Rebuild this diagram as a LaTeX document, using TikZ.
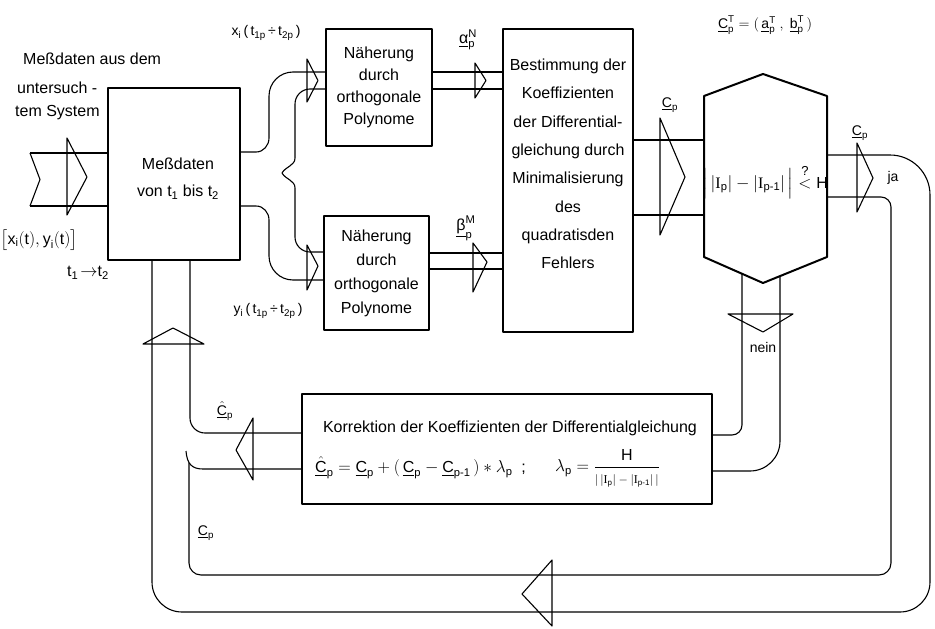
\documentclass[tikz,border=0pt]{standalone}
\usepackage{amsmath}
\usepackage{fontspec}
\setmainfont{Liberation Sans}
\newfontfamily\serf{Liberation Serif}
\newcommand\tx[1]{\text{#1}}
\newcommand\fs{\fontsize{16}{19}\selectfont}
\newcommand\fsm{\fontsize{14}{16}\selectfont}
\newcommand\uC{\underline{\tx{C}}}
\newcommand\II{\tx{\serf I}}
\begin{document}
\begin{tikzpicture}[x=1pt,y=-1pt,line join=round,
 box/.style={draw,line width=2pt,inner sep=0pt,align=center},
 pipe/.style={line width=1.1pt},
 tri/.style={line width=1.1pt},
 lbl/.style={inner sep=0pt,font=\fs},
 sml/.style={inner sep=0pt,font=\fsm}]
\useasboundingbox (0,0) rectangle (935,629);

% ---------- boxes ----------
\node[box,minimum width=132pt,minimum height=172pt] (mess) at (174,174) {};
\node[box,minimum width=106pt,minimum height=117pt,font=\fontsize{16}{22}\selectfont] (nah1) at (379,87.5) {Näherung\\durch\\orthogonale\\Polynome};
\node[box,minimum width=105pt,minimum height=114pt,font=\fontsize{16}{24}\selectfont] (nah2) at (376.5,273) {Näherung\\durch\\orthogonale\\Polynome};
\node[box,minimum width=130pt,minimum height=303pt] (best) at (568,180.5) {};
\node[box,minimum width=410pt,minimum height=110pt] (korr) at (507,449) {};

\coordinate (h1) at (704,96);
\coordinate (h2) at (763,74);
\coordinate (h3) at (827,96);
\coordinate (h4) at (827,257);
\coordinate (h5) at (763,283);
\coordinate (h6) at (704,257);
\draw[line width=2pt] (h1)--(h2)--(h3)--(h4)--(h5)--(h6)--cycle;

% ---------- box texts ----------
\node[inner sep=0pt,align=center,font=\fontsize{16}{27}\selectfont] (messT) at (178,178.5) {Meßdaten\\von t$_{\tx{1}}$ bis t$_{\tx{2}}$};
\node[inner sep=0pt,align=center,font=\fontsize{16}{28.3}\selectfont] (bestT) at (568,164) {Bestimmung der\\Koeffizienten\\der Differential-\\gleichung durch\\Minimalisierung\\des\\quadratisden\\Fehlers};
\node[lbl] (k1) at (510,428) {Korrektion der Koeffizienten der Differentialgleichung};
\node[lbl,anchor=west] (k2) at (315,468) {$\hat{\uC}_{\tx{p}} = \uC_{\tx{p}} + (\,\uC_{\tx{p}} - \uC_{\tx{p-1}}\,)\ast\lambda_{\tx{p}}$\ \ ;};
\node[lbl,anchor=west] (k3) at (555,468) {$\lambda_{\tx{p}} = \dfrac{\tx{H}}{\mbox{\fontsize{12}{12}\selectfont$\left|\,|\II_{\tx{p}}| - |\II_{\tx{p-1}}|\,\right|$}}$};
\node[lbl] (hexT) at (765,182) {$\Big|\,|\II_{\tx{p}}| - |\II_{\tx{p-1}}|\,\Big|\overset{\tx{\fontsize{13}{13}\selectfont ?}}{<}\tx{H}$};

% ---------- input ----------
\draw[pipe] (30,153) -- (mess.west |- 0,153);
\draw[pipe] (30,206) -- (mess.west |- 0,206);
\draw[pipe] (30,153) -- (40,179.5) -- (30,206);
\draw[tri] (67,138) -- (87,177) -- (67,215) -- cycle;

% ---------- main box to approximation boxes ----------
\draw[pipe] (mess.east |- 0,152) -- (256,152) to[out=0,in=-90] (269,138) -- (269,96) to[out=90,in=180] (293,72) -- (nah1.west |- 0,72);
\draw[pipe] (nah1.west |- 0,89) -- (310,89) to[out=180,in=90] (295,104) -- (295,158) to[out=-90,in=60] (282,173) to[out=-60,in=90] (295,188) -- (295,237) to[out=-90,in=180] (310,252) -- (nah2.west |- 0,252);
\draw[pipe] (mess.east |- 0,206) -- (256,206) to[out=0,in=90] (269,220) -- (269,256) to[out=-90,in=180] (293,280) -- (nah2.west |- 0,280);
\draw[tri] (307,59) -- (318,80.5) -- (307,102) -- cycle;
\draw[tri] (307,245) -- (318,266) -- (307,290) -- cycle;

% ---------- approximation boxes to Bestimmung ----------
\draw[pipe] (nah1.east |- 0,72) -- (best.west |- 0,72);
\draw[pipe] (nah1.east |- 0,89) -- (best.west |- 0,89);
\draw[tri] (475,63) -- (486,80.5) -- (475,98) -- cycle;
\draw[pipe] (nah2.east |- 0,253) -- (best.west |- 0,253);
\draw[pipe] (nah2.east |- 0,269) -- (best.west |- 0,269);
\draw[tri] (473,243) -- (487,262) -- (473,292) -- cycle;

% ---------- Bestimmung to decision ----------
\draw[pipe] (best.east |- 0,140) -- (h1 |- 0,140);
\draw[pipe] (best.east |- 0,215) -- (h1 |- 0,215);
\draw[tri] (660,118) -- (685,177) -- (660,235) -- cycle;

% ---------- ja: outer and inner loops ----------
\draw[pipe] (h3 |- 0,155) -- (890,155) to[out=0,in=90] (930,195) -- (930,582) to[out=-90,in=0] (900,612) -- (182,612) to[out=180,in=-90] (152,582) -- (152,0 |- mess.south);
\draw[pipe] (h3 |- 0,197) -- (881,197) to[out=0,in=90] (891,207) -- (891,563) to[out=-90,in=0] (879,575) -- (201,575) to[out=180,in=-90] (189,563) -- (189,463);
\draw[tri] (857,143) -- (873,178) -- (857,212) -- cycle;
\draw[tri] (552,560) -- (522,594) -- (552,626) -- cycle;

% ---------- nein: to Korrektion ----------
\draw[pipe] (korr.east |- 0,435) -- (732,435) to[out=0,in=-90] (742,425) -- (742,273);
\draw[pipe] (korr.east |- 0,471) -- (750,471) to[out=0,in=-90] (780,441) -- (780,276);
\draw[tri] (728,314) -- (793,314) -- (763,332) -- cycle;

% ---------- Korrektion back to main box ----------
\draw[pipe] (korr.west |- 0,433) -- (205,433) to[out=180,in=-90] (190,418) -- (190,0 |- mess.south);
\draw[pipe] (186,451) .. controls (187,464) and (192,469) .. (203,469) -- (korr.west |- 0,469);
\draw[tri] (253,418) -- (236,450) -- (253,480) -- cycle;
\draw[tri] (143,344) -- (204,344) -- (173,328) -- cycle;

% ---------- labels ----------
\node[lbl,anchor=west] (l1) at (23,59) {Meßdaten aus dem};
\node[lbl,anchor=west] (l2) at (17,88) {untersuch -};
\node[lbl,anchor=west] (l3) at (15,113) {tem System};
\node[lbl] (l4) at (39,240) {$\big[\tx{x}_{\tx{i}}(\tx{t}),\tx{y}_{\tx{i}}(\tx{t})\big]$};
\node[lbl] (l5) at (88,273) {t$_{\tx{1}}\!\to$t$_{\tx{2}}$};
\node[sml] (l6) at (266,33) {x$_{\tx{i}}$\,(\,t$_{\tx{1p}}$\,÷\,t$_{\tx{2p}}$\,)};
\node[sml] (l7) at (268,311) {y$_{\tx{i}}$\,(\,t$_{\tx{1p}}$\,÷\,t$_{\tx{2p}}$\,)};
\node[lbl] (l8) at (468,40) {$\underline{\tx{α}}^{\tx{N}}_{\tx{p}}$};
\node[lbl] (l9) at (466,228) {$\underline{\tx{β}}^{\tx{M}}_{\tx{p}}$};
\node[sml] (l10) at (670,105) {$\uC_{\tx{p}}$};
\node[sml] (l11) at (860,133) {$\uC_{\tx{p}}$};
\node[sml] (l12) at (893,178) {ja};
\node[sml] (l13) at (763,347) {nein};
\node[sml] (l14) at (225,411) {$\hat{\uC}_{\tx{p}}$};
\node[sml] (l15) at (206,533) {$\uC_{\tx{p}}$};
\node[sml] (l16) at (765,25) {$\uC^{\tx{T}}_{\tx{p}} = (\,\underline{\tx{a}}^{\tx{T}}_{\tx{p}}\ ,\ \underline{\tx{b}}^{\tx{T}}_{\tx{p}}\,)$};
\end{tikzpicture}
\end{document}
